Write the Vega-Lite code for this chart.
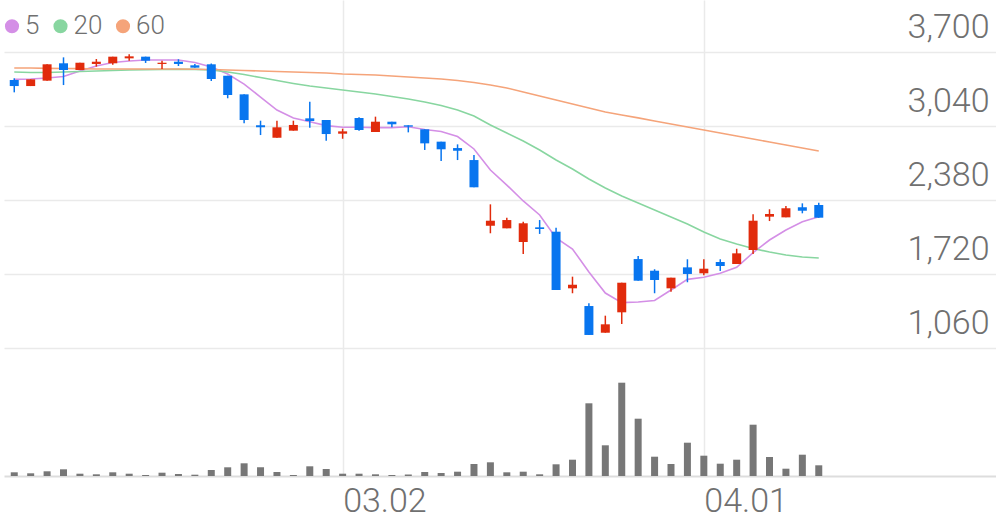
{
  "$schema": "https://vega.github.io/schema/vega-lite/v6.json",
  "width": 992,
  "height": 476,
  "autosize": {"type": "none"},
  "padding": {"left": 4, "top": 0, "right": 0, "bottom": 43},
  "background": "white",
  "config": {"view": {"stroke": null}, "font": "Roboto"},
  "data": {
    "values": [
      {"i":0,"d":"02.03","o":3453,"h":3468,"l":3343,"c":3399,"v":37,"ma5":3459,"ma20":3524,"ma60":3560},
      {"i":1,"d":"02.04","o":3399,"h":3459,"l":3399,"c":3459,"v":27,"ma5":3462,"ma20":3520,"ma60":3560},
      {"i":2,"d":"02.05","o":3447,"h":3593,"l":3447,"c":3593,"v":47,"ma5":3471,"ma20":3520,"ma60":3557},
      {"i":3,"d":"02.06","o":3602,"h":3655,"l":3408,"c":3542,"v":67,"ma5":3484,"ma20":3524,"ma60":3556},
      {"i":4,"d":"02.07","o":3542,"h":3607,"l":3542,"c":3607,"v":23,"ma5":3533,"ma20":3529,"ma60":3554},
      {"i":5,"d":"02.10","o":3596,"h":3640,"l":3572,"c":3616,"v":17,"ma5":3578,"ma20":3533,"ma60":3551},
      {"i":6,"d":"02.11","o":3602,"h":3661,"l":3589,"c":3661,"v":37,"ma5":3609,"ma20":3538,"ma60":3551},
      {"i":7,"d":"02.12","o":3646,"h":3682,"l":3625,"c":3664,"v":23,"ma5":3622,"ma20":3542,"ma60":3551},
      {"i":8,"d":"02.13","o":3661,"h":3661,"l":3605,"c":3625,"v":10,"ma5":3631,"ma20":3545,"ma60":3551},
      {"i":9,"d":"02.14","o":3596,"h":3625,"l":3551,"c":3607,"v":33,"ma5":3631,"ma20":3547,"ma60":3551},
      {"i":10,"d":"02.17","o":3616,"h":3638,"l":3578,"c":3596,"v":20,"ma5":3631,"ma20":3548,"ma60":3551},
      {"i":11,"d":"02.18","o":3584,"h":3596,"l":3563,"c":3563,"v":13,"ma5":3609,"ma20":3548,"ma60":3549},
      {"i":12,"d":"02.19","o":3593,"h":3600,"l":3444,"c":3462,"v":60,"ma5":3569,"ma20":3542,"ma60":3547},
      {"i":13,"d":"02.20","o":3491,"h":3491,"l":3290,"c":3319,"v":87,"ma5":3506,"ma20":3524,"ma60":3542},
      {"i":14,"d":"02.21","o":3325,"h":3325,"l":3067,"c":3096,"v":127,"ma5":3417,"ma20":3502,"ma60":3538},
      {"i":15,"d":"02.24","o":3049,"h":3090,"l":2962,"c":3031,"v":87,"ma5":3301,"ma20":3475,"ma60":3533},
      {"i":16,"d":"02.25","o":2938,"h":3090,"l":2938,"c":3031,"v":40,"ma5":3185,"ma20":3448,"ma60":3529},
      {"i":17,"d":"02.26","o":3001,"h":3090,"l":3001,"c":3052,"v":10,"ma5":3114,"ma20":3422,"ma60":3524},
      {"i":18,"d":"02.27","o":3111,"h":3259,"l":3027,"c":3087,"v":97,"ma5":3081,"ma20":3399,"ma60":3520},
      {"i":19,"d":"02.28","o":3096,"h":3096,"l":2912,"c":2971,"v":70,"ma5":3046,"ma20":3382,"ma60":3515},
      {"i":20,"d":"03.02","o":2974,"h":3019,"l":2929,"c":2995,"v":23,"ma5":3031,"ma20":3364,"ma60":3506},
      {"i":21,"d":"03.03","o":3114,"h":3120,"l":3000,"c":3007,"v":23,"ma5":3031,"ma20":3346,"ma60":3502},
      {"i":22,"d":"03.04","o":2989,"h":3126,"l":2989,"c":3081,"v":17,"ma5":3028,"ma20":3328,"ma60":3498},
      {"i":23,"d":"03.05","o":3081,"h":3081,"l":3031,"c":3058,"v":10,"ma5":3028,"ma20":3306,"ma60":3489},
      {"i":24,"d":"03.06","o":3049,"h":3049,"l":2986,"c":3037,"v":15,"ma5":3036,"ma20":3283,"ma60":3480},
      {"i":25,"d":"03.09","o":3013,"h":3013,"l":2829,"c":2888,"v":40,"ma5":3011,"ma20":3257,"ma60":3471},
      {"i":26,"d":"03.10","o":2903,"h":2903,"l":2730,"c":2835,"v":30,"ma5":2994,"ma20":3225,"ma60":3462},
      {"i":27,"d":"03.11","o":2846,"h":2879,"l":2739,"c":2822,"v":43,"ma5":2949,"ma20":3185,"ma60":3448},
      {"i":28,"d":"03.12","o":2739,"h":2784,"l":2496,"c":2496,"v":120,"ma5":2838,"ma20":3132,"ma60":3431},
      {"i":29,"d":"03.13","o":2153,"h":2344,"l":2086,"c":2198,"v":137,"ma5":2650,"ma20":3052,"ma60":3408},
      {"i":30,"d":"03.16","o":2130,"h":2225,"l":2130,"c":2204,"v":37,"ma5":2516,"ma20":2980,"ma60":3382},
      {"i":31,"d":"03.17","o":2008,"h":2189,"l":1901,"c":2175,"v":43,"ma5":2374,"ma20":2909,"ma60":3346},
      {"i":32,"d":"03.18","o":2139,"h":2204,"l":2080,"c":2124,"v":17,"ma5":2249,"ma20":2829,"ma60":3310},
      {"i":33,"d":"03.19","o":2100,"h":2136,"l":1580,"c":1580,"v":117,"ma5":2044,"ma20":2739,"ma60":3275},
      {"i":34,"d":"03.20","o":1595,"h":1699,"l":1551,"c":1627,"v":163,"ma5":1946,"ma20":2659,"ma60":3239},
      {"i":35,"d":"03.23","o":1437,"h":1461,"l":1179,"c":1179,"v":727,"ma5":1741,"ma20":2570,"ma60":3204},
      {"i":36,"d":"03.24","o":1199,"h":1351,"l":1199,"c":1274,"v":307,"ma5":1553,"ma20":2490,"ma60":3168},
      {"i":37,"d":"03.25","o":1381,"h":1645,"l":1277,"c":1645,"v":933,"ma5":1467,"ma20":2418,"ma60":3141},
      {"i":38,"d":"03.26","o":1856,"h":1883,"l":1663,"c":1663,"v":573,"ma5":1473,"ma20":2356,"ma60":3115},
      {"i":39,"d":"03.27","o":1752,"h":1765,"l":1551,"c":1669,"v":193,"ma5":1486,"ma20":2294,"ma60":3087},
      {"i":40,"d":"03.30","o":1595,"h":1690,"l":1565,"c":1690,"v":120,"ma5":1580,"ma20":2231,"ma60":3060},
      {"i":41,"d":"03.31","o":1782,"h":1854,"l":1649,"c":1723,"v":333,"ma5":1675,"ma20":2169,"ma60":3034},
      {"i":42,"d":"04.01","o":1729,"h":1854,"l":1711,"c":1770,"v":203,"ma5":1693,"ma20":2097,"ma60":3007},
      {"i":43,"d":"04.02","o":1830,"h":1854,"l":1750,"c":1794,"v":123,"ma5":1729,"ma20":2035,"ma60":2980},
      {"i":44,"d":"04.03","o":1812,"h":1948,"l":1812,"c":1907,"v":163,"ma5":1782,"ma20":1990,"ma60":2953},
      {"i":45,"d":"04.06","o":1937,"h":2255,"l":1901,"c":2198,"v":513,"ma5":1913,"ma20":1950,"ma60":2927},
      {"i":46,"d":"04.07","o":2234,"h":2300,"l":2195,"c":2258,"v":190,"ma5":2026,"ma20":1919,"ma60":2900},
      {"i":47,"d":"04.08","o":2228,"h":2329,"l":2228,"c":2309,"v":73,"ma5":2115,"ma20":1892,"ma60":2873},
      {"i":48,"d":"04.09","o":2318,"h":2353,"l":2264,"c":2287,"v":213,"ma5":2189,"ma20":1874,"ma60":2846},
      {"i":49,"d":"04.10","o":2338,"h":2359,"l":2225,"c":2225,"v":107,"ma5":2234,"ma20":1865,"ma60":2820}
    ]
  },
  "layer": [
    {
      "layer": [
        {
          "transform": [{"fold": ["ma5", "ma20", "ma60"], "as": ["ma", "val"]}],
          "mark": {"type": "line", "strokeWidth": 1.6},
          "encoding": {
            "x": {
              "field": "i", "type": "quantitative",
              "scale": {"domain": [-0.32, 59.49], "nice": false, "zero": false},
              "axis": {
                "values": [20, 42], "title": null, "orient": "bottom",
                "grid": true, "gridColor": "#eaeaea", "gridWidth": 1.5,
                "domain": true, "domainColor": "#dddddd", "domainWidth": 2,
                "ticks": false, "tickSize": 0,
                "labelAlign": "left", "labelBaseline": "alphabetic", "labelPadding": 35.5,
                "labelFontSize": 34, "labelFont": "Roboto", "labelFontWeight": 300, "labelColor": "#707070",
                "labelExpr": "datum.value == 20 ? '03.02' : '04.01'",
                "labelFlush": false, "labelOverlap": false, "labelBound": false
              }
            },
            "y": {
              "field": "val", "type": "quantitative",
              "scale": {"domain": [-78.9, 4166.5], "nice": false, "zero": false},
              "axis": {
                "orient": "right", "values": [1060, 1720, 2380, 3040, 3700], "format": ",d", "title": null,
                "grid": true, "gridColor": "#eaeaea", "gridWidth": 1.5,
                "domain": false, "ticks": false, "tickSize": 0,
                "labelAlign": "right", "labelBaseline": "alphabetic", "labelPadding": -7, "labelOffset": -14.6,
                "labelFontSize": 34, "labelFont": "Roboto", "labelFontWeight": 300, "labelColor": "#707070",
                "labelFlush": false, "labelOverlap": false, "labelBound": false
              }
            },
            "color": {
              "field": "ma", "type": "nominal",
              "scale": {"domain": ["ma5", "ma20", "ma60"], "range": ["#d48fe6", "#88d6a0", "#f5a47a"]},
              "legend": {
                "title": null, "orient": "none", "legendX": -5, "legendY": 13.3,
                "direction": "horizontal", "symbolType": "circle", "symbolSize": 200, "symbolStrokeWidth": 0,
                "labelFontSize": 26, "labelFont": "Roboto", "labelFontWeight": 300, "labelColor": "#707070",
                "labelOffset": 0, "columnPadding": 7.5, "padding": 0,
                "labelExpr": "replace(datum.label, 'ma', '')",
                "encode": {"symbols": {"update": {"fill": {"scale": "color", "field": "value"}, "opacity": {"value": 1}}}}
              }
            }
          }
        },
        {
          "mark": {"type": "rule", "strokeWidth": 1.5},
          "encoding": {
            "x": {"field": "i", "type": "quantitative"},
            "y": {"field": "l", "type": "quantitative"},
            "y2": {"field": "h"},
            "color": {"condition": {"test": "datum.c >= datum.o", "value": "#e12b0c"}, "value": "#0875ef"}
          }
        },
        {
          "mark": {"type": "bar", "width": 9},
          "encoding": {
            "x": {"field": "i", "type": "quantitative"},
            "y": {"field": "o", "type": "quantitative"},
            "y2": {"field": "c"},
            "color": {"condition": {"test": "datum.c >= datum.o", "value": "#e12b0c"}, "value": "#0875ef"}
          }
        }
      ]
    },
    {
      "mark": {"type": "bar", "width": 7, "color": "#777777", "orient": "vertical"},
      "encoding": {
        "x": {"field": "i", "type": "quantitative"},
        "y": {"field": "v", "type": "quantitative", "scale": {"domain": [0, 4760], "nice": false, "zero": true}, "axis": null}
      }
    }
  ],
  "resolve": {"scale": {"y": "independent"}}
}
